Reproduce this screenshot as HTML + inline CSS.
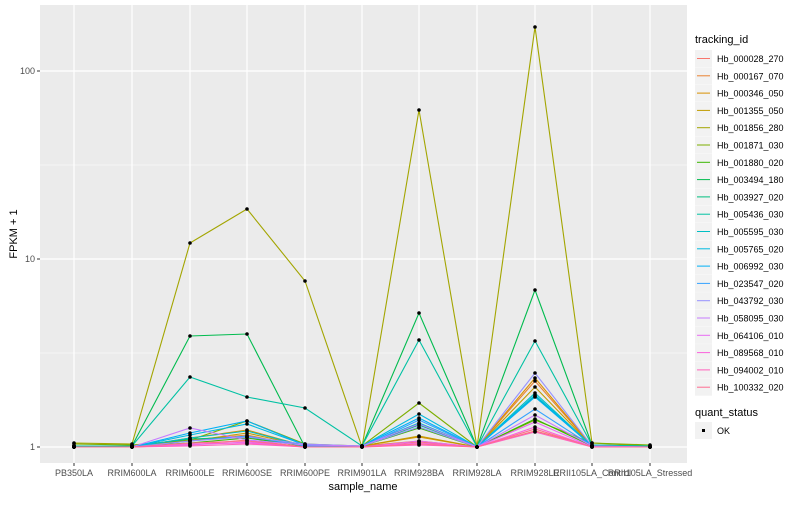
<!DOCTYPE html><html><head><style>body{margin:0;background:#fff}svg text{font-family:"Liberation Sans",sans-serif}</style></head><body>
<svg id="s" width="800" height="500" xmlns="http://www.w3.org/2000/svg">
<rect x="40" y="5" width="647" height="458" fill="#EBEBEB"/>
<g stroke="#fff" stroke-width="0.6"><line x1="40" x2="687" y1="353" y2="353"/><line x1="40" x2="687" y1="165" y2="165"/></g>
<g stroke="#fff" stroke-width="1.2" id="grid"><line x1="40" x2="687" y1="447" y2="447"/><line x1="40" x2="687" y1="259" y2="259"/><line x1="40" x2="687" y1="71" y2="71"/></g>
<g id="lines" fill="none" stroke-width="1.1"></g>
<g id="pts"></g>
<g font-size="9" fill="#4D4D4D" text-anchor="end"><text x="35" y="450">1</text><text x="35" y="262">10</text><text x="35" y="74">100</text></g>
<g stroke="#333" stroke-width="1"><line x1="37" x2="40" y1="447" y2="447"/><line x1="37" x2="40" y1="259" y2="259"/><line x1="37" x2="40" y1="71" y2="71"/></g>
<g id="xl" font-size="9" fill="#4D4D4D" text-anchor="middle"></g>
<text x="363" y="490" font-size="11" text-anchor="middle">sample_name</text>
<text transform="translate(17,234) rotate(-90)" font-size="11" text-anchor="middle">FPKM + 1</text>
<text x="695" y="43" font-size="11">tracking_id</text>
<g id="leg" font-size="9"></g>
<text x="695" y="416" font-size="11">quant_status</text>
<rect x="695" y="422" width="17" height="17" fill="#F2F2F2"/><rect x="702" y="429" width="3" height="3" fill="#000"/>
<text x="717" y="434" font-size="9">OK</text>
</svg>
<script>
var X=[74,132,190,247,305,362,419,477,535,592,650];
var names=["PB350LA","RRIM600LA","RRIM600LE","RRIM600SE","RRIM600PE","RRIM901LA","RRIM928BA","RRIM928LA","RRIM928LE","RRII105LA_Control","RRII105LA_Stressed"];
var C=["#F8766D","#EA8331","#D89000","#C09B00","#A3A500","#7CAE00","#39B600","#00BB4E","#00BF7D","#00C1A3","#00BFC4","#00BAE0","#00B0F6","#35A2FF","#9590FF","#C77CFF","#E76BF3","#FA62DB","#FF62BC","#FF6C91"];
var ids=["Hb_000028_270","Hb_000167_070","Hb_000346_050","Hb_001355_050","Hb_001856_280","Hb_001871_030","Hb_001880_020","Hb_003494_180","Hb_003927_020","Hb_005436_030","Hb_005595_030","Hb_005765_020","Hb_006992_030","Hb_023547_020","Hb_043792_030","Hb_058095_030","Hb_064106_010","Hb_089568_010","Hb_094002_010","Hb_100332_020"];
var Y={
4:[443,444,243,209,281,447,110,447,27,443,446],
7:[446,446,336,334,447,446,313,447,290,445,446],
9:[446,446,377,397,408,446,340,447,341,445,446],
5:[444,445,440,421,444,446,403,447,420,443,445],
0:[447,447,445,440,447,446,442,447,431,446,447],
1:[447,447,440,435,447,446,441,447,381,446,447],
2:[447,447,438,430,446,446,437,447,378,446,447],
3:[446,446,441,433,446,446,436,447,387,446,447],
6:[446,446,443,438,446,446,428,447,419,446,447],
8:[446,446,439,437,446,446,425,447,396,446,447],
10:[447,447,438,431,446,446,423,447,393,446,447],
11:[447,447,435,424,445,446,414,447,395,446,447],
12:[447,447,433,421,445,446,418,447,397,446,447],
13:[447,447,441,436,446,447,420,447,409,446,447],
14:[447,447,441,437,444,446,427,447,373,446,447],
15:[447,447,428,440,445,446,424,447,415,446,447],
16:[447,447,445,442,447,447,441,447,422,447,447],
17:[447,447,444,443,447,447,443,447,427,447,447],
18:[447,447,446,444,447,447,445,447,432,447,447],
19:[447,447,443,441,447,447,444,447,429,447,447]};
var ns="http://www.w3.org/2000/svg",L=document.getElementById("lines"),P=document.getElementById("pts");
for(var i=0;i<20;i++){var y=Y[i],d="";for(var j=0;j<11;j++){d+=(j?"L":"M")+X[j]+","+y[j];
var c=document.createElementNS(ns,"circle");c.setAttribute("cx",X[j]);c.setAttribute("cy",y[j]);c.setAttribute("r",1.8);P.appendChild(c);}
var p=document.createElementNS(ns,"path");p.setAttribute("d",d);p.setAttribute("stroke",C[i]);L.appendChild(p);}
var xl=document.getElementById("xl"),h="";
for(var j=0;j<11;j++){h+='<line x1="'+X[j]+'" x2="'+X[j]+'" y1="463" y2="466" stroke="#333"/><text x="'+X[j]+'" y="476">'+names[j]+'</text>';}
xl.innerHTML=h;
document.getElementById("grid").innerHTML+=X.map(function(x){return '<line x1="'+x+'" x2="'+x+'" y1="5" y2="463"/>'}).join("");
var g="";for(var i=0;i<20;i++){var yy=50+i*17.3;g+='<rect x="695" y="'+yy+'" width="17" height="17" fill="#F2F2F2"/><line x1="697" x2="710" y1="'+(yy+8.5)+'" y2="'+(yy+8.5)+'" stroke="'+C[i]+'"/><text x="717" y="'+(yy+12)+'">'+ids[i]+'</text>';}
document.getElementById("leg").innerHTML=g;
</script>
</body></html>
